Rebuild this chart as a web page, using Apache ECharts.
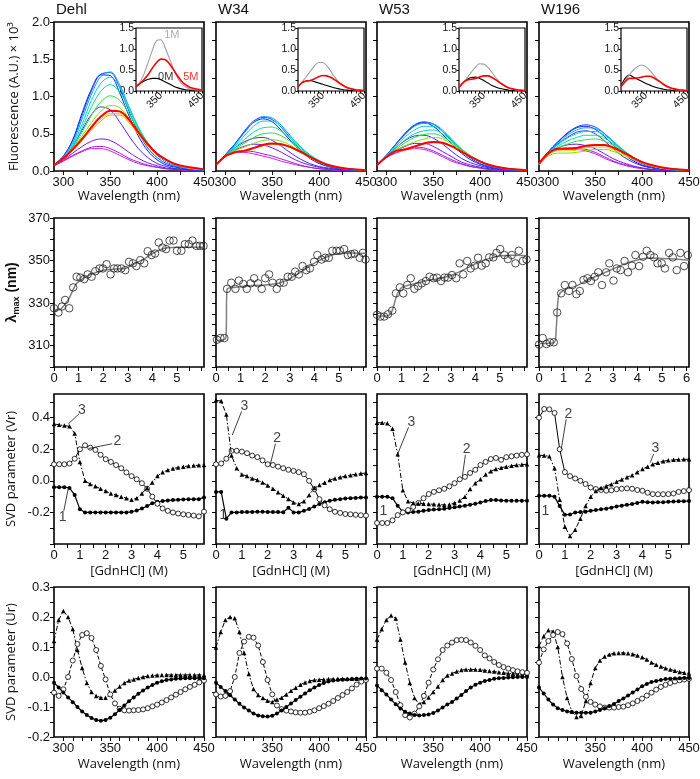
<!DOCTYPE html>
<html><head><meta charset="utf-8">
<script src="https://cdn.jsdelivr.net/npm/echarts@6/dist/echarts.min.js"></script>
<style>html,body{margin:0;padding:0;background:#fff}#c{width:700px;height:779px}</style>
</head><body><div id="c"></div>
<script>
// ---------------- DATA ----------------
const panels = ['Dehl', 'W34', 'W53', 'W196'];

// Row 1: fluorescence spectra (A.U. x 10^3) at these wavelengths
const specWl = [290,300,310,320,330,340,350,360,370,380,390,400,410,420,430,440,450];
const specColors = ['#d21ed2','#a01ee6','#7814f0','#4628f0','#1414ff','#0050ff','#00a0ff','#00d2dc','#00e196','#1ee646','#78e600','#f0d200','#ffa000','#ff0000'];
const specDehl = [
 [0.07,0.13,0.2,0.26,0.3,0.3,0.27,0.21,0.15,0.1,0.07,0.05,0.03,0.02,0.01,0.01,0.01],
 [0.07,0.14,0.21,0.27,0.32,0.33,0.3,0.24,0.17,0.12,0.08,0.05,0.03,0.02,0.01,0.01,0.01],
 [0.08,0.15,0.24,0.33,0.4,0.43,0.41,0.34,0.25,0.17,0.11,0.07,0.04,0.03,0.02,0.01,0.01],
 [0.08,0.17,0.33,0.55,0.76,0.86,0.82,0.66,0.47,0.3,0.18,0.1,0.06,0.03,0.02,0.01,0.01],
 [0.08,0.2,0.42,0.78,1.1,1.29,1.28,1.05,0.74,0.47,0.27,0.15,0.08,0.05,0.03,0.02,0.01],
 [0.08,0.2,0.41,0.75,1.08,1.3,1.32,1.12,0.8,0.52,0.31,0.18,0.1,0.06,0.03,0.02,0.01],
 [0.08,0.19,0.38,0.7,1.03,1.27,1.33,1.16,0.86,0.57,0.35,0.21,0.12,0.07,0.04,0.02,0.01],
 [0.08,0.18,0.35,0.63,0.95,1.18,1.26,1.13,0.86,0.59,0.38,0.23,0.14,0.08,0.05,0.03,0.02],
 [0.08,0.17,0.33,0.58,0.86,1.07,1.16,1.06,0.83,0.58,0.38,0.24,0.14,0.08,0.05,0.03,0.02],
 [0.08,0.17,0.31,0.52,0.75,0.93,1.01,0.95,0.77,0.55,0.37,0.23,0.14,0.08,0.05,0.03,0.02],
 [0.08,0.17,0.3,0.47,0.65,0.8,0.88,0.85,0.71,0.52,0.35,0.23,0.14,0.09,0.05,0.03,0.02],
 [0.08,0.16,0.28,0.42,0.57,0.7,0.77,0.77,0.66,0.5,0.34,0.22,0.14,0.09,0.05,0.03,0.02],
 [0.08,0.16,0.28,0.41,0.55,0.67,0.75,0.75,0.65,0.49,0.34,0.22,0.14,0.09,0.05,0.03,0.02],
 [0.08,0.17,0.29,0.43,0.59,0.73,0.81,0.8,0.69,0.52,0.36,0.23,0.15,0.09,0.06,0.04,0.02]
];
const specW34 = [
 [0.08,0.2,0.25,0.25,0.23,0.2,0.17,0.13,0.1,0.07,0.05,0.03,0.02,0.01,0.01,0.01,0.0],
 [0.08,0.2,0.26,0.27,0.26,0.23,0.2,0.16,0.12,0.08,0.05,0.03,0.02,0.01,0.01,0.01,0.0],
 [0.08,0.2,0.28,0.33,0.36,0.35,0.31,0.25,0.18,0.12,0.08,0.05,0.03,0.02,0.01,0.01,0.0],
 [0.08,0.21,0.31,0.39,0.44,0.45,0.41,0.33,0.24,0.16,0.1,0.06,0.04,0.02,0.01,0.01,0.0],
 [0.08,0.22,0.36,0.52,0.65,0.7,0.66,0.54,0.4,0.27,0.17,0.1,0.06,0.03,0.02,0.01,0.01],
 [0.08,0.22,0.36,0.53,0.67,0.72,0.69,0.58,0.43,0.29,0.19,0.11,0.06,0.04,0.02,0.01,0.01],
 [0.08,0.21,0.35,0.51,0.65,0.73,0.71,0.61,0.46,0.32,0.21,0.13,0.07,0.04,0.02,0.01,0.01],
 [0.08,0.21,0.33,0.47,0.6,0.67,0.67,0.59,0.46,0.33,0.22,0.14,0.08,0.05,0.03,0.02,0.01],
 [0.08,0.2,0.31,0.42,0.52,0.58,0.59,0.53,0.43,0.31,0.21,0.14,0.08,0.05,0.03,0.02,0.01],
 [0.08,0.2,0.29,0.37,0.45,0.5,0.51,0.47,0.39,0.29,0.2,0.13,0.08,0.05,0.03,0.02,0.01],
 [0.08,0.2,0.27,0.32,0.37,0.41,0.42,0.4,0.34,0.26,0.19,0.12,0.08,0.05,0.03,0.02,0.01],
 [0.08,0.2,0.25,0.28,0.31,0.34,0.36,0.35,0.31,0.25,0.18,0.12,0.08,0.05,0.03,0.02,0.01],
 [0.08,0.2,0.25,0.27,0.3,0.34,0.36,0.35,0.31,0.25,0.18,0.12,0.08,0.05,0.03,0.02,0.01],
 [0.08,0.2,0.25,0.27,0.31,0.35,0.37,0.36,0.32,0.26,0.19,0.13,0.08,0.05,0.03,0.02,0.01]
];
const specW53 = [
 [0.08,0.18,0.24,0.28,0.3,0.29,0.25,0.19,0.13,0.09,0.06,0.04,0.02,0.01,0.01,0.01,0.0],
 [0.08,0.18,0.25,0.3,0.32,0.31,0.27,0.21,0.15,0.1,0.06,0.04,0.02,0.01,0.01,0.01,0.0],
 [0.08,0.19,0.27,0.33,0.37,0.37,0.33,0.26,0.19,0.12,0.08,0.05,0.03,0.02,0.01,0.01,0.0],
 [0.08,0.2,0.31,0.41,0.47,0.48,0.44,0.36,0.26,0.17,0.11,0.07,0.04,0.02,0.01,0.01,0.0],
 [0.08,0.21,0.36,0.5,0.61,0.65,0.6,0.49,0.36,0.24,0.15,0.09,0.05,0.03,0.02,0.01,0.01],
 [0.08,0.21,0.36,0.51,0.62,0.66,0.63,0.53,0.4,0.27,0.17,0.1,0.06,0.03,0.02,0.01,0.01],
 [0.08,0.21,0.35,0.49,0.6,0.64,0.63,0.55,0.42,0.29,0.19,0.12,0.07,0.04,0.02,0.01,0.01],
 [0.08,0.2,0.33,0.46,0.55,0.6,0.6,0.53,0.42,0.3,0.2,0.13,0.08,0.05,0.03,0.02,0.01],
 [0.08,0.2,0.31,0.42,0.5,0.54,0.55,0.5,0.4,0.3,0.2,0.13,0.08,0.05,0.03,0.02,0.01],
 [0.08,0.19,0.29,0.38,0.45,0.49,0.5,0.46,0.38,0.29,0.2,0.13,0.08,0.05,0.03,0.02,0.01],
 [0.08,0.19,0.28,0.34,0.39,0.43,0.45,0.43,0.36,0.28,0.2,0.13,0.08,0.05,0.03,0.02,0.01],
 [0.08,0.19,0.27,0.3,0.33,0.37,0.39,0.38,0.33,0.26,0.19,0.13,0.08,0.05,0.03,0.02,0.01],
 [0.08,0.19,0.27,0.29,0.33,0.36,0.38,0.37,0.33,0.26,0.19,0.13,0.08,0.05,0.03,0.02,0.01],
 [0.08,0.19,0.27,0.29,0.33,0.37,0.39,0.38,0.33,0.26,0.19,0.13,0.08,0.05,0.03,0.02,0.01]
];
const specW196 = [
 [0.1,0.22,0.28,0.29,0.29,0.27,0.23,0.17,0.12,0.08,0.05,0.03,0.02,0.01,0.01,0.0,0.0],
 [0.1,0.22,0.29,0.31,0.31,0.29,0.25,0.19,0.13,0.09,0.06,0.04,0.02,0.01,0.01,0.0,0.0],
 [0.1,0.23,0.31,0.35,0.36,0.34,0.3,0.23,0.16,0.11,0.07,0.04,0.02,0.01,0.01,0.01,0.0],
 [0.1,0.25,0.36,0.45,0.52,0.54,0.5,0.4,0.29,0.19,0.12,0.07,0.04,0.02,0.01,0.01,0.0],
 [0.1,0.26,0.39,0.5,0.58,0.6,0.56,0.46,0.34,0.23,0.14,0.08,0.05,0.03,0.02,0.01,0.0],
 [0.1,0.26,0.39,0.51,0.59,0.62,0.59,0.5,0.38,0.26,0.16,0.1,0.06,0.03,0.02,0.01,0.01],
 [0.1,0.25,0.37,0.48,0.55,0.58,0.57,0.5,0.39,0.28,0.18,0.11,0.07,0.04,0.02,0.01,0.01],
 [0.1,0.25,0.35,0.44,0.5,0.53,0.53,0.48,0.38,0.28,0.19,0.12,0.07,0.04,0.02,0.01,0.01],
 [0.1,0.24,0.33,0.4,0.45,0.48,0.48,0.44,0.36,0.27,0.19,0.12,0.07,0.04,0.03,0.02,0.01],
 [0.1,0.24,0.31,0.36,0.4,0.42,0.43,0.4,0.34,0.26,0.18,0.12,0.07,0.04,0.03,0.02,0.01],
 [0.08,0.2,0.24,0.24,0.25,0.27,0.29,0.29,0.26,0.21,0.16,0.11,0.07,0.04,0.03,0.02,0.01],
 [0.09,0.22,0.27,0.27,0.28,0.31,0.32,0.32,0.28,0.22,0.17,0.11,0.07,0.04,0.03,0.02,0.01],
 [0.09,0.23,0.29,0.29,0.3,0.33,0.34,0.34,0.3,0.24,0.18,0.12,0.08,0.05,0.03,0.02,0.01],
 [0.1,0.24,0.3,0.3,0.31,0.34,0.35,0.35,0.31,0.25,0.18,0.12,0.08,0.05,0.03,0.02,0.01]
];

// Row 1 insets: 0M (black), 1M (grey), 5M (red)
const insetDehl0 = [0.12,0.18,0.24,0.28,0.3,0.3,0.27,0.22,0.17,0.12,0.08,0.05,0.03,0.02,0.01,0.01,0.01];
const insetDehl1 = [0.1,0.22,0.42,0.7,0.98,1.2,1.22,1.05,0.8,0.55,0.33,0.18,0.1,0.05,0.03,0.02,0.01];
const insetDehl5 = [0.1,0.18,0.28,0.4,0.55,0.68,0.76,0.75,0.66,0.52,0.37,0.24,0.15,0.09,0.06,0.04,0.02];
const insetW34_0 = [0.1,0.2,0.24,0.25,0.22,0.19,0.16,0.13,0.1,0.07,0.05,0.03,0.02,0.01,0.01,0.0,0.0];
const insetW34_1 = [0.1,0.22,0.34,0.47,0.6,0.68,0.68,0.6,0.46,0.32,0.2,0.12,0.07,0.04,0.02,0.01,0.01];
const insetW34_5 = [0.1,0.2,0.24,0.25,0.29,0.34,0.37,0.36,0.32,0.26,0.19,0.13,0.08,0.05,0.03,0.02,0.01];
const insetW53_0 = [0.08,0.2,0.28,0.32,0.33,0.3,0.25,0.19,0.13,0.09,0.06,0.04,0.02,0.01,0.01,0.0,0.0];
const insetW53_1 = [0.08,0.2,0.32,0.45,0.57,0.65,0.64,0.56,0.44,0.31,0.2,0.12,0.07,0.04,0.02,0.01,0.01];
const insetW53_5 = [0.08,0.2,0.26,0.28,0.3,0.33,0.36,0.36,0.32,0.26,0.19,0.13,0.08,0.05,0.03,0.02,0.01];
const insetW196_0 = [0.12,0.3,0.38,0.33,0.28,0.23,0.18,0.14,0.1,0.07,0.05,0.03,0.02,0.01,0.01,0.0,0.0];
const insetW196_1 = [0.1,0.25,0.38,0.5,0.58,0.62,0.58,0.49,0.37,0.26,0.17,0.1,0.06,0.03,0.02,0.01,0.01];
const insetW196_5 = [0.1,0.22,0.3,0.3,0.31,0.33,0.35,0.35,0.31,0.25,0.18,0.12,0.08,0.05,0.03,0.02,0.01];
const insetLabels = [['1M',377,1.33,'#9a9a9a'],['0M',362,0.33,'#000'],['5M',423,0.33,'#ff0000']];

// Row 2: lambda max vs [GdnHCl]
const lamXDehl = [0,0.18,0.32,0.45,0.62,0.78,0.92,1.07,1.23,1.37,1.53,1.68,1.85,1.99,2.14,2.3,2.44,2.58,2.74,2.9,3.05,3.21,3.35,3.51,3.67,3.81,3.97,4.11,4.26,4.41,4.56,4.7,4.86,5.0,5.18,5.32,5.48,5.63,5.79,5.93,6.08];
const lamYDehl = [327.6,325.6,328.4,331.5,327.6,337.4,342.4,342,341.3,343.5,342.4,345,346.3,346.3,348.3,343.5,346.3,346.3,346.3,345.5,349.4,348.7,347.4,350.2,348.7,354.4,352.6,353.3,358.5,356.1,355.4,359.4,359.4,354.6,354.6,357.7,357.7,359.4,356.9,356.9,356.9];
const lamXW34 = [0.04,0.18,0.34,0.45,0.62,0.79,0.93,1.11,1.25,1.41,1.55,1.71,1.86,2.0,2.16,2.3,2.47,2.6,2.75,2.92,3.08,3.22,3.37,3.52,3.67,3.82,3.99,4.12,4.29,4.44,4.59,4.73,4.9,5.04,5.21,5.36,5.5,5.63,5.84,5.97,6.08];
const lamYW34 = [312.8,313.6,313.6,336.7,339.6,336.7,340.6,339,336.7,339.3,341.7,339.3,336.7,341.7,343.5,339.6,336.7,339.6,339.6,342.4,342.4,344.8,343.5,347.4,345.5,346.3,349.4,352.6,350.5,351.3,351.3,354.6,354.6,354.6,355.4,352.6,353.0,353.3,351.3,353.6,350.5];
const lamXW53 = [0,0.14,0.29,0.45,0.62,0.77,0.93,1.07,1.23,1.37,1.52,1.67,1.82,1.99,2.14,2.3,2.44,2.6,2.75,2.89,3.05,3.22,3.36,3.51,3.67,3.81,3.97,4.11,4.26,4.42,4.56,4.73,4.86,5.01,5.18,5.32,5.48,5.63,5.77,5.93,6.08];
const lamYW53 = [324.5,323.7,323.7,324.8,326.5,334.6,337.4,334.6,338.5,341.7,336.7,338,339.3,340.4,342.4,341.7,342,340.4,342,342,343.2,341.7,348.7,343.5,349.8,346.3,347.6,351.3,347.6,348.7,351.5,351.5,353.6,355.4,352.6,350.7,352.6,348.7,354.6,349.8,350.5];
const lamXW196 = [0,0.15,0.3,0.44,0.6,0.74,0.9,1.05,1.22,1.36,1.52,1.66,1.81,1.97,2.11,2.27,2.41,2.56,2.73,2.86,3.03,3.16,3.32,3.48,3.62,3.78,3.92,4.07,4.23,4.38,4.53,4.68,4.82,4.99,5.12,5.29,5.44,5.6,5.75,5.9,6.05];
const lamYW196 = [310.5,313.6,310.8,311.6,311.6,325.6,334.6,338.5,335.7,338.5,334.2,335.7,340.9,341.7,340.4,342.4,344.5,338.5,344.5,348.7,340.6,346.3,345.5,349.8,344.5,347.6,352.6,347.4,351.8,354.6,352.6,351.5,348.7,348.7,346.3,353.6,351.5,345.5,353.6,347.4,352.6];
// fitted curves (grey lines)
const lamFitDehl = [[0,325.8],[0.3,327.5],[0.6,332],[0.9,339],[1.2,341.8],[1.6,344],[2,345.5],[2.5,346],[2.9,346.3],[3.3,348.7],[3.7,351],[4,353.3],[4.3,355],[4.6,356],[5,356.3],[5.5,356.3],[6.1,356.3]];
const lamFitW34 = [[0,312.5],[0.4,313.5],[0.45,336.5],[0.8,337.5],[1.5,338.3],[2,338.5],[2.6,339.5],[3,341.5],[3.5,345],[4,348.8],[4.5,351.7],[5,353.3],[5.5,353.6],[6.1,353.4]];
const lamFitW53 = [[0,324],[0.4,324],[0.6,326],[0.8,333.5],[1.0,337.3],[1.5,339],[2,340.5],[2.5,341.5],[3,343],[3.5,345.5],[4,348.5],[4.5,350.8],[5,352.2],[5.5,352.5],[6.1,352.3]];
const lamFitW196 = [[0,311],[0.62,311.5],[0.7,318],[0.8,333.5],[1,336],[1.5,338],[2,341],[2.5,343.5],[3,346],[3.5,348.5],[4,350.3],[4.5,351.2],[5,351],[5.5,350.7],[6.1,350.2]];

// Row 3: SVD Vr vs [GdnHCl]
const vrConc = [0,0.2,0.4,0.6,0.8,1.0,1.2,1.4,1.6,1.8,2.0,2.2,2.4,2.6,2.8,3.0,3.2,3.4,3.6,3.8,4.0,4.2,4.4,4.6,4.8,5.0,5.2,5.4,5.6,5.8];
const vr1Dehl = [-0.04,-0.04,-0.04,-0.045,-0.09,-0.18,-0.2,-0.2,-0.2,-0.2,-0.2,-0.2,-0.2,-0.2,-0.2,-0.196,-0.188,-0.175,-0.16,-0.142,-0.133,-0.128,-0.124,-0.122,-0.12,-0.118,-0.117,-0.116,-0.116,-0.105];
const vr2Dehl = [0.105,0.105,0.105,0.11,0.14,0.2,0.225,0.21,0.196,0.165,0.137,0.12,0.1,0.08,0.053,0.03,0.01,-0.015,-0.05,-0.1,-0.145,-0.175,-0.19,-0.2,-0.207,-0.212,-0.216,-0.22,-0.225,-0.195];
const vr3Dehl = [0.36,0.355,0.35,0.345,0.3,0.12,0.0,-0.02,-0.035,-0.05,-0.065,-0.08,-0.09,-0.1,-0.11,-0.12,-0.11,-0.08,-0.045,-0.01,0.03,0.055,0.068,0.078,0.085,0.09,0.094,0.097,0.099,0.1];
const vr1W34 = [-0.07,-0.07,-0.24,-0.2,-0.2,-0.198,-0.198,-0.197,-0.196,-0.196,-0.197,-0.198,-0.198,-0.199,-0.17,-0.2,-0.2,-0.19,-0.178,-0.163,-0.147,-0.135,-0.126,-0.12,-0.116,-0.112,-0.11,-0.108,-0.106,-0.105];
const vr2W34 = [0.105,0.11,0.14,0.19,0.19,0.185,0.175,0.16,0.15,0.13,0.105,0.1,0.09,0.08,0.07,0.063,0.055,0.042,0.0,-0.053,-0.116,-0.155,-0.18,-0.196,-0.203,-0.21,-0.212,-0.215,-0.218,-0.22];
const vr3W34 = [0.51,0.505,0.42,0.16,0.08,0.04,0.03,0.015,0.005,-0.01,-0.03,-0.05,-0.073,-0.095,-0.115,-0.137,-0.147,-0.13,-0.09,-0.045,-0.027,-0.012,0.005,0.015,0.022,0.03,0.036,0.042,0.046,0.05];
const vr1W53 = [-0.1,-0.1,-0.1,-0.11,-0.158,-0.196,-0.2,-0.198,-0.195,-0.19,-0.185,-0.182,-0.18,-0.177,-0.172,-0.168,-0.163,-0.157,-0.152,-0.145,-0.137,-0.128,-0.122,-0.122,-0.124,-0.126,-0.126,-0.126,-0.126,-0.126];
const vr2W53 = [-0.267,-0.267,-0.267,-0.25,-0.217,-0.2,-0.185,-0.165,-0.14,-0.11,-0.084,-0.07,-0.06,-0.05,-0.035,-0.015,0.01,0.025,0.05,0.07,0.1,0.12,0.138,0.145,0.133,0.15,0.155,0.16,0.165,0.168];
const vr3W53 = [0.368,0.368,0.365,0.33,0.168,-0.06,-0.13,-0.14,-0.143,-0.145,-0.147,-0.148,-0.15,-0.153,-0.15,-0.141,-0.125,-0.1,-0.052,-0.015,0.01,0.04,0.06,0.075,0.083,0.09,0.095,0.1,0.103,0.105];
const vr1W196 = [-0.095,-0.095,-0.095,-0.1,-0.16,-0.215,-0.213,-0.2,-0.198,-0.195,-0.19,-0.185,-0.18,-0.176,-0.17,-0.162,-0.157,-0.152,-0.147,-0.14,-0.133,-0.135,-0.137,-0.136,-0.135,-0.133,-0.131,-0.13,-0.129,-0.128];
const vr2W196 = [0.4,0.455,0.453,0.43,0.2,0.055,0.03,0.015,0.0,-0.02,-0.042,-0.052,-0.058,-0.062,-0.06,-0.053,-0.05,-0.048,-0.05,-0.058,-0.063,-0.075,-0.084,-0.085,-0.085,-0.084,-0.08,-0.07,-0.065,-0.059];
const vr3W196 = [0.162,0.16,0.155,0.08,-0.12,-0.29,-0.35,-0.31,-0.24,-0.16,-0.1,-0.065,-0.045,-0.032,-0.022,-0.006,0.008,0.022,0.036,0.055,0.075,0.09,0.105,0.115,0.124,0.13,0.133,0.135,0.136,0.137];
// labels "1","2","3": panel, text, textX, textY, leader from (x1,y1) to (x2,y2) (null = none)
const vrNotes = [
 [0,'3',1.08,0.445,[0.97,0.425,0.55,0.36]],
 [0,'2',2.45,0.25,[2.25,0.235,1.35,0.205]],
 [0,'1',0.33,-0.23,[0.38,-0.19,0.55,-0.05]],
 [1,'3',1.1,0.47,[0.99,0.44,0.63,0.29]],
 [1,'2',2.36,0.27,[2.3,0.235,2.1,0.105]],
 [1,'1',0.28,-0.215,null],
 [2,'3',1.33,0.37,[1.22,0.34,0.8,0.17]],
 [2,'2',3.47,0.2,[3.42,0.165,3.3,0.03]],
 [2,'1',0.25,-0.195,null],
 [3,'2',1.14,0.42,[1.05,0.39,0.86,0.2]],
 [3,'3',4.5,0.205,[4.43,0.17,4.3,0.115]],
 [3,'1',0.25,-0.195,null]
];

// Row 4: SVD Ur vs wavelength
const urWl = [290,295,300,305,310,315,320,325,330,335,340,345,350,355,360,365,370,375,380,385,390,395,400,405,410,415,420,425,430,435,440,445,450];
const urTriDehl = [0.12,0.19,0.22,0.2,0.16,0.09,0.03,-0.02,-0.05,-0.063,-0.069,-0.069,-0.058,-0.045,-0.032,-0.02,-0.012,-0.008,-0.003,0.0,0.003,0.005,0.006,0.007,0.007,0.007,0.007,0.007,0.007,0.007,0.007,0.007,0.007];
const urOpenDehl = [-0.052,-0.063,-0.041,0.0,0.055,0.11,0.14,0.146,0.13,0.09,0.037,-0.008,-0.058,-0.088,-0.106,-0.111,-0.112,-0.111,-0.11,-0.108,-0.104,-0.098,-0.092,-0.085,-0.077,-0.068,-0.059,-0.05,-0.041,-0.033,-0.026,-0.018,-0.012];
const urFillDehl = [-0.019,-0.035,-0.052,-0.068,-0.084,-0.1,-0.115,-0.127,-0.137,-0.143,-0.146,-0.143,-0.136,-0.124,-0.11,-0.095,-0.081,-0.068,-0.056,-0.045,-0.035,-0.027,-0.019,-0.014,-0.01,-0.008,-0.006,-0.005,-0.004,-0.004,-0.004,-0.004,-0.004];
const urTriW34 = [0.098,0.15,0.19,0.2,0.196,0.15,0.08,0.01,-0.04,-0.06,-0.07,-0.079,-0.083,-0.075,-0.069,-0.058,-0.046,-0.036,-0.026,-0.018,-0.013,-0.01,-0.009,-0.008,-0.007,-0.007,-0.006,-0.006,-0.006,-0.006,-0.006,-0.006,-0.006];
const urOpenW34 = [-0.058,-0.065,-0.063,-0.047,0.0,0.08,0.118,0.134,0.131,0.105,0.05,-0.01,-0.058,-0.095,-0.107,-0.112,-0.115,-0.118,-0.119,-0.119,-0.116,-0.111,-0.104,-0.097,-0.089,-0.08,-0.07,-0.06,-0.05,-0.038,-0.025,-0.015,-0.01];
const urFillW34 = [-0.019,-0.033,-0.047,-0.061,-0.075,-0.089,-0.102,-0.112,-0.122,-0.128,-0.131,-0.132,-0.129,-0.122,-0.112,-0.1,-0.088,-0.077,-0.066,-0.055,-0.044,-0.035,-0.027,-0.02,-0.015,-0.012,-0.01,-0.009,-0.008,-0.007,-0.006,-0.005,-0.005];
const urTriW53 = [0.125,0.159,0.19,0.205,0.195,0.125,0.048,-0.02,-0.07,-0.091,-0.083,-0.068,-0.05,-0.032,-0.01,0.005,0.012,0.018,0.023,0.025,0.025,0.025,0.024,0.022,0.02,0.018,0.016,0.014,0.012,0.011,0.01,0.009,0.009];
const urOpenW53 = [0.028,0.028,0.014,-0.01,-0.05,-0.094,-0.127,-0.135,-0.122,-0.098,-0.063,-0.019,0.025,0.059,0.09,0.105,0.115,0.123,0.124,0.123,0.115,0.104,0.09,0.072,0.062,0.05,0.04,0.033,0.028,0.023,0.019,0.016,0.014];
const urFillW53 = [-0.028,-0.044,-0.058,-0.075,-0.091,-0.105,-0.116,-0.122,-0.127,-0.128,-0.127,-0.125,-0.12,-0.112,-0.102,-0.092,-0.083,-0.072,-0.06,-0.047,-0.035,-0.026,-0.019,-0.013,-0.01,-0.006,-0.004,-0.003,-0.002,-0.001,0.0,0.0,0.0];
const urTriW196 = [0.103,0.136,0.156,0.152,0.1,0.0,-0.07,-0.115,-0.133,-0.13,-0.08,-0.02,0.03,0.055,0.068,0.075,0.079,0.08,0.08,0.079,0.076,0.072,0.066,0.058,0.048,0.041,0.035,0.029,0.025,0.021,0.017,0.014,0.012];
const urOpenW196 = [0.048,0.092,0.12,0.14,0.15,0.143,0.112,0.06,0.003,-0.04,-0.066,-0.083,-0.092,-0.098,-0.102,-0.102,-0.102,-0.1,-0.099,-0.094,-0.088,-0.08,-0.072,-0.062,-0.052,-0.042,-0.033,-0.026,-0.02,-0.015,-0.011,-0.008,-0.006];
const urFillW196 = [-0.035,-0.055,-0.075,-0.092,-0.104,-0.11,-0.115,-0.117,-0.119,-0.119,-0.119,-0.119,-0.115,-0.11,-0.104,-0.097,-0.09,-0.08,-0.072,-0.062,-0.052,-0.042,-0.031,-0.023,-0.017,-0.013,-0.01,-0.007,-0.006,-0.005,-0.004,-0.003,-0.003];

// tick label values
const specTicks = [300,350,400,450];
const fluorTicks = [0,0.5,1.0,1.5,2.0];
const insetYTicks = [0,0.5,1.0,1.5];
const insetXTicks = [350,450];
const lamTicks = [310,330,350,370];
const concTicks = [0,1,2,3,4,5,6];
const vrTicks = [-0.2,0,0.2,0.4];
const urTicks = [-0.2,-0.1,0,0.1,0.2,0.3];

// ---------------- BUILD ----------------
const specAll = [specDehl, specW34, specW53, specW196];
const insetAll = [[insetDehl0,insetDehl1,insetDehl5],[insetW34_0,insetW34_1,insetW34_5],[insetW53_0,insetW53_1,insetW53_5],[insetW196_0,insetW196_1,insetW196_5]];
const lamAll = [[lamXDehl,lamYDehl,lamFitDehl],[lamXW34,lamYW34,lamFitW34],[lamXW53,lamYW53,lamFitW53],[lamXW196,lamYW196,lamFitW196]];
const vrAll = [[vr1Dehl,vr2Dehl,vr3Dehl],[vr1W34,vr2W34,vr3W34],[vr1W53,vr2W53,vr3W53],[vr1W196,vr2W196,vr3W196]];
const urAll = [[urTriDehl,urOpenDehl,urFillDehl],[urTriW34,urOpenW34,urFillW34],[urTriW53,urOpenW53,urFillW53],[urTriW196,urOpenW196,urFillW196]];

const TF = '"Liberation Sans", Arial, sans-serif';
const NF = '"Open Sans", "Liberation Sans", sans-serif';
const colLeft = [54, 216, 377, 539], PW = 150;
const rowTop = [22, 218, 394, 587], rowH = [149, 149, 150, 150];

function steps(a, b, s) { const r = []; for (let k = 0; a + k * s <= b + 1e-9; k++) r.push(+(a + k * s).toFixed(4)); return r; }

const grid = [], xAxis = [], yAxis = [], series = [];
function axis(o) {
  return {
    type: 'value', gridIndex: o.g, min: o.min, max: o.max,
    axisLine: { show: false, onZero: false }, splitLine: { show: false },
    axisTick: { show: true, length: o.tl || 4, customValues: o.ticks, lineStyle: { color: '#000', width: 1 } },
    axisLabel: { show: !!o.labels, customValues: o.labels || [], formatter: o.fmt, color: '#111',
      fontSize: o.fs || 13, fontFamily: TF, margin: o.margin == null ? 4 : o.margin, rotate: o.rotate || 0, hideOverlap: false },
    name: o.name || '', nameLocation: 'middle', nameGap: o.nameGap || 20,
    nameTextStyle: o.nameStyle || { fontSize: 13, fontFamily: NF, color: '#111' }
  };
}
function addGrid(l, t, w, h, xo, yo, bw) {
  const g = grid.length;
  grid.push({ left: l, top: t, width: w, height: h, show: true, borderColor: '#000', borderWidth: bw || 1.6,
    backgroundColor: 'rgba(0,0,0,0)', containLabel: false, outerBoundsMode: 'none' });
  xo.g = g; yo.g = g;
  xAxis.push(axis(xo)); yAxis.push(axis(yo));
  return g;
}
const f1 = v => (+v).toFixed(1);
const f0 = v => String(Math.round(v));

const openSym = { color: '#fff', borderColor: '#000', borderWidth: 0.8 };
const fillSym = { color: '#000', borderWidth: 0 };

for (let p = 0; p < 4; p++) {
  const L = colLeft[p];
  // ---- row 1: spectra ----
  let g = addGrid(L, rowTop[0], PW, rowH[0],
    { min: 290, max: 450, ticks: steps(300, 450, 25), labels: specTicks, fmt: f0, margin: 5,
      name: 'Wavelength (nm)', nameGap: 19 },
    { min: 0, max: 2, ticks: steps(0, 2, 0.25), labels: p === 0 ? fluorTicks : null, fmt: f1,
      name: p === 0 ? 'Fluorescence (A.U.) × 10³' : '', nameGap: 33 });
  specAll[p].forEach((curve, k) => {
    series.push({ type: 'line', xAxisIndex: g, yAxisIndex: g, showSymbol: false, smooth: 0.35, silent: true,
      data: specWl.map((w, i) => [w, curve[i]]),
      lineStyle: { color: specColors[k], width: k === specColors.length - 1 ? 2 : 1 }, z: 2 + k });
  });
  // inset
  g = addGrid(L + 82, 28, 66, 63,
    { min: 290, max: 450, ticks: steps(290, 450, 10), labels: insetXTicks, fmt: f0, fs: 10.5, rotate: 45, tl: 2.5, margin: 3 },
    { min: 0, max: 1.5, ticks: steps(0, 1.5, 0.25), labels: insetYTicks, fmt: f1, fs: 10.5, tl: 2.5, margin: 2 }, 1.2);
  const icol = ['#000', '#a0a0a0', '#ff0000'];
  insetAll[p].forEach((curve, k) => {
    series.push({ type: 'line', xAxisIndex: g, yAxisIndex: g, showSymbol: false, smooth: 0.35, silent: true,
      data: specWl.map((w, i) => [w, curve[i]]),
      lineStyle: { color: icol[k], width: k === 2 ? 1.6 : 1.1 }, z: 20 + k });
  });
  if (p === 0) {
    series.push({ type: 'scatter', xAxisIndex: g, yAxisIndex: g, symbolSize: 0, silent: true, z: 30,
      data: insetLabels.map(t => ({ value: [t[1], t[2]], label: { show: true, position: 'inside', formatter: t[0],
        color: t[3], fontSize: 11, fontFamily: TF } })) });
  }
  // ---- row 2: lambda max ----
  g = addGrid(L, rowTop[1], PW, rowH[1],
    { min: 0, max: 6.1, ticks: steps(0, 6, 0.5), labels: p === 3 ? concTicks : concTicks.slice(0, 6), fmt: f0, margin: 5 },
    { min: 300, max: 370, ticks: steps(300, 370, 5), labels: p === 0 ? lamTicks : null, fmt: f0,
      name: p === 0 ? '{l|λ}{s|max}{n| (nm)}' : '', nameGap: 33,
      nameStyle: { color: '#111', fontFamily: TF, rich: {
        l: { fontSize: 15, fontWeight: 'bold', fontFamily: TF, lineHeight: 18, color: '#111' },
        s: { fontSize: 9, fontWeight: 'bold', fontFamily: TF, lineHeight: 10, verticalAlign: 'bottom', color: '#111' },
        n: { fontSize: 14, fontWeight: 'bold', fontFamily: TF, lineHeight: 18, color: '#111' } } } });
  const [lx, ly, lfit] = lamAll[p];
  series.push({ type: 'line', xAxisIndex: g, yAxisIndex: g, showSymbol: false, smooth: 0.3, silent: true,
    data: lfit, lineStyle: { color: '#808080', width: 1.5 }, z: 2 });
  series.push({ type: 'scatter', xAxisIndex: g, yAxisIndex: g, symbol: 'circle', symbolSize: 7.5, silent: true,
    data: lx.map((x, i) => [x, ly[i]]),
    itemStyle: { color: 'rgba(255,255,255,0)', borderColor: '#222', borderWidth: 1 }, z: 3 });
  // ---- row 3: Vr ----
  g = addGrid(L, rowTop[2], PW, rowH[2],
    { min: 0, max: 5.8, ticks: steps(0, 5.5, 0.5), labels: concTicks.slice(0, 6), fmt: f0, margin: 5,
      name: '[GdnHCl] (M)', nameGap: 21 },
    { min: -0.4, max: 0.55, ticks: steps(-0.4, 0.5, 0.1), labels: p === 0 ? vrTicks : null, fmt: f1,
      name: p === 0 ? 'SVD parameter (Vr)' : '', nameGap: 36 });
  const [v1, v2, v3] = vrAll[p];
  const vrSt = [
    { d: v1, sym: 'circle', sz: 4, st: fillSym, ls: 'solid', w: 1.2 },
    { d: v2, sym: 'circle', sz: 5, st: openSym, ls: 'solid', w: 1 },
    { d: v3, sym: 'triangle', sz: 4.5, st: fillSym, ls: [5, 2, 1.5, 2], w: 1 }
  ];
  vrSt.forEach((s, k) => {
    series.push({ type: 'line', xAxisIndex: g, yAxisIndex: g, symbol: s.sym, symbolSize: s.sz, showSymbol: true, silent: true,
      data: vrConc.map((c, i) => [c, s.d[i]]),
      itemStyle: s.st, lineStyle: { color: '#000', width: s.w, type: s.ls }, z: 3 + k });
  });
  vrNotes.filter(n => n[0] === p).forEach(n => {
    series.push({ type: 'scatter', xAxisIndex: g, yAxisIndex: g, symbolSize: 0, silent: true, z: 10,
      data: [{ value: [n[2], n[3]], label: { show: true, position: 'inside', formatter: n[1], color: '#111', fontSize: 14, fontFamily: TF } }] });
    if (n[4]) {
      series.push({ type: 'line', xAxisIndex: g, yAxisIndex: g, showSymbol: false, silent: true, z: 10,
        data: [[n[4][0], n[4][1]], [n[4][2], n[4][3]]], lineStyle: { color: '#111', width: 0.8 } });
    }
  });
  // ---- row 4: Ur ----
  g = addGrid(L, rowTop[3], PW, rowH[3],
    { min: 290, max: 450, ticks: steps(300, 450, 10), labels: p === 0 ? specTicks : specTicks.slice(1), fmt: f0, margin: 5,
      name: 'Wavelength (nm)', nameGap: 21 },
    { min: -0.2, max: 0.3, ticks: steps(-0.2, 0.3, 0.05), labels: p === 0 ? urTicks : null, fmt: f1,
      name: p === 0 ? 'SVD parameter (Ur)' : '', nameGap: 36 });
  const [ua, ub, uc] = urAll[p];
  const urSt = [
    { d: ua, sym: 'triangle', sz: 4.5, st: fillSym, ls: [5, 2, 1.5, 2], w: 1 },
    { d: ub, sym: 'circle', sz: 5, st: openSym, ls: [4, 2], w: 1 },
    { d: uc, sym: 'circle', sz: 4, st: fillSym, ls: 'solid', w: 1.2 }
  ];
  urSt.forEach((s, k) => {
    series.push({ type: 'line', xAxisIndex: g, yAxisIndex: g, symbol: s.sym, symbolSize: s.sz, showSymbol: true, silent: true,
      data: urWl.map((w, i) => [w, s.d[i]]),
      itemStyle: s.st, lineStyle: { color: '#000', width: s.w, type: s.ls }, z: 3 + k });
  });
}

const title = panels.map((t, i) => ({ text: t, left: colLeft[i] + 2, top: 2, padding: 0,
  textStyle: { fontSize: 15, fontWeight: 'normal', fontFamily: TF, color: '#111' } }));

const chart = echarts.init(document.getElementById('c'), null, { renderer: 'canvas' });
chart.setOption({ animation: false, backgroundColor: '#fff', title, grid, xAxis, yAxis, series });
</script>
</body></html>
